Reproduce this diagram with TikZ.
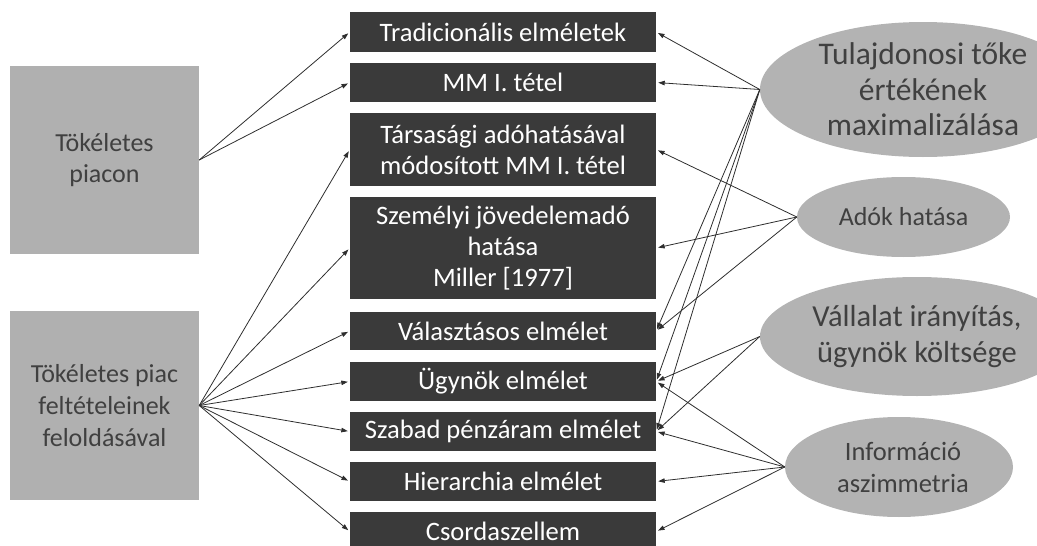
\documentclass[tikz,border=0pt]{standalone}
\usepackage{fontspec}
\setmainfont{Carlito}
\usetikzlibrary{arrows.meta,shapes.geometric}

\definecolor{leftgray}{HTML}{B0B0B0}
\definecolor{boxdark}{HTML}{3A3A3A}
\definecolor{ellgray}{HTML}{B3B3B3}
\definecolor{inkgray}{HTML}{404040}
\definecolor{linegray}{HTML}{2E2E2E}

\newcommand\fsz[2]{\fontsize{#1}{#2}\selectfont}

\tikzset{
  leftbox/.style={rectangle, fill=leftgray, inner sep=0pt, align=center,
    text=inkgray, font=\fsz{26pt}{31.7pt}, minimum width=189pt},
  theory/.style={rectangle, fill=boxdark, inner sep=0pt, align=center,
    text=white, font=\fsz{26.6pt}{31pt}, minimum width=306pt},
  factor/.style={ellipse, fill=ellgray, inner sep=0pt},
  factortext/.style={align=center, text=inkgray, inner sep=0pt},
  conn/.style={draw=linegray, line width=0.8pt,
    -{Triangle[length=6.5pt,width=4.5pt]}, shorten >=2pt},
}

\begin{document}
\begin{tikzpicture}[x=1pt, y=-1pt]
\useasboundingbox (0,0) rectangle (1037,546);
\clip (0,0) rectangle (1037,546);

% market conditions
\node[leftbox, minimum height=188pt] (p1) at (104.5,160) {Tökéletes\\piacon};
\node[leftbox, minimum height=189pt] (p2) at (104.5,405.5) {Tökéletes piac\\feltételeinek\\feloldásával};

% capital structure theories
\node[theory, minimum height=40pt]  (t1) at (503,32)    {Tradicionális elméletek};
\node[theory, minimum height=39pt]  (t2) at (503,82.5)  {MM I. tétel};
\node[theory, minimum height=73pt]  (t3) at (503,149.5) {Társasági adóhatásával\\módosított MM I. tétel};
\node[theory, minimum height=102pt] (t4) at (503,248)   {Személyi jövedelemadó\\hatása\\Miller [1977]};
\node[theory, minimum height=38pt]  (t5) at (503,331)   {Választásos elmélet};
\node[theory, minimum height=39pt]  (t6) at (503,381.5) {Ügynök elmélet};
\node[theory, minimum height=39pt]  (t7) at (503,431.5) {Szabad pénzáram elmélet};
\node[theory, minimum height=39pt]  (t8) at (503,481.5) {Hierarchia elmélet};
\node[theory, minimum height=39pt]  (t9) at (503,531.5) {Csordaszellem};

% driving factors (the two large ellipses run past the right edge)
\node[factor, minimum width=326pt, minimum height=135pt] (e1) at (923,89.5) {};
\node[factortext, font=\fsz{31.5pt}{35.5pt}] (e1t) at (e1) {Tulajdonosi tőke\\értékének\\maximalizálása};
\node[factor, minimum width=213pt, minimum height=80pt] (e2) at (903.5,217) {};
\node[factortext, font=\fsz{26pt}{31pt}] (e2t) at (e2) {Adók hatása};
\node[factor, minimum width=314pt, minimum height=119pt] (e3) at (917,336.5) {};
\node[factortext, font=\fsz{30.5pt}{36pt}] (e3t) at (e3) {Vállalat irányítás,\\ügynök költsége};
\node[factor, minimum width=228pt, minimum height=100pt] (e4) at (899,467) {};
\node[factortext, font=\fsz{26.5pt}{32pt}] (e4t) at (903,467) {Információ\\aszimmetria};

% left connectors
\draw[conn] (p1.east) -- (t1.west);
\draw[conn] (p1.east) -- (t2.west);
\foreach \t in {t3,t4,t5,t6,t7,t8,t9}
  \draw[conn] (p2.east) -- (\t.west);

% right connectors
\foreach \t in {t1,t2,t5,t6,t7}
  \draw[conn] (e1.west) -- (\t.east);
\foreach \t in {t3,t4,t5}
  \draw[conn] (e2.west) -- (\t.east);
\foreach \t in {t6,t7}
  \draw[conn] (e3.west) -- (\t.east);
\foreach \t in {t6,t7,t8,t9}
  \draw[conn] (e4.west) -- (\t.east);
\end{tikzpicture}
\end{document}
